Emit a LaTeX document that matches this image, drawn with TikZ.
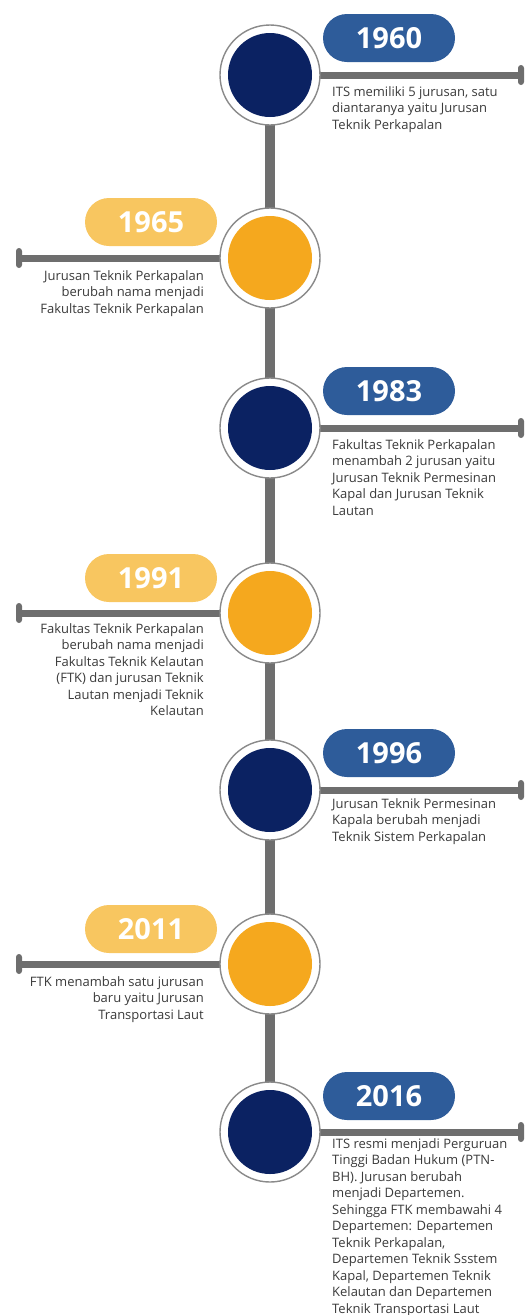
\documentclass[tikz,border=0pt]{standalone}
\usepackage{fontspec}
\setmainfont{Open Sans}
\newfontfamily\yearfont{Open Sans}
\usetikzlibrary{positioning,backgrounds}

\definecolor{navydot}{HTML}{0B2262}
\definecolor{orangedot}{HTML}{F5A81E}
\definecolor{bluepill}{HTML}{2E5C9A}
\definecolor{orangepill}{HTML}{F8C660}
\definecolor{linegray}{HTML}{6E6E6E}
\definecolor{ringgray}{HTML}{8A8A8A}
\definecolor{textgray}{HTML}{3A3A3A}

\begin{document}
\begin{tikzpicture}[x=1pt, y=-1pt,
	ring/.style={circle, draw=ringgray, line width=1.4pt, fill=white, minimum size=100pt, inner sep=0pt},
	navyball/.style={circle, fill=navydot, minimum size=84pt, inner sep=0pt},
	orangeball/.style={circle, fill=orangedot, minimum size=84pt, inner sep=0pt},
	yearpill/.style={rounded corners=24pt, minimum width=132pt, minimum height=48pt, inner sep=0pt,
		text=white, font=\yearfont\bfseries\fontsize{29}{30}\selectfont},
	bluetag/.style={yearpill, fill=bluepill},
	orangetag/.style={yearpill, fill=orangepill},
	spine/.style={draw=linegray, line width=10pt},
	branch/.style={draw=linegray, line width=7pt},
	endbar/.style={rectangle, rounded corners=3pt, fill=linegray, minimum width=6pt, minimum height=20pt, inner sep=0pt},
	righttext/.style={anchor=north west, inner sep=0pt, align=left, text=textgray, font=\fontsize{13}{16.5}\selectfont},
	lefttext/.style={anchor=north east, inner sep=0pt, align=right, text=textgray, font=\fontsize{13}{16.5}\selectfont}]
	\useasboundingbox (0,0) rectangle (526,1315);

	% circles on the spine
	\node[ring] (r60) at (270,75) {};
	\node[navyball] (b60) at (r60) {};
	\node[ring] (r65) at (270,258) {};
	\node[orangeball] (b65) at (r65) {};
	\node[ring] (r83) at (270,428) {};
	\node[navyball] (b83) at (r83) {};
	\node[ring] (r91) at (270,613) {};
	\node[orangeball] (b91) at (r91) {};
	\node[ring] (r96) at (270,790) {};
	\node[navyball] (b96) at (r96) {};
	\node[ring] (r11) at (270,964) {};
	\node[orangeball] (b11) at (r11) {};
	\node[ring] (r16) at (270,1132) {};
	\node[navyball] (b16) at (r16) {};

	% ends of the branches
	\node[endbar] (e60) at (521,75) {};
	\node[endbar] (e65) at (19,258) {};
	\node[endbar] (e83) at (521,428) {};
	\node[endbar] (e91) at (19,613) {};
	\node[endbar] (e96) at (521,790) {};
	\node[endbar] (e11) at (19,964) {};
	\node[endbar] (e16) at (521,1132) {};

	\begin{scope}[on background layer]
		\path[spine] (r60.center) -- (r16.center);
		\path[branch] (r60.center) -- (e60.center);
		\path[branch] (r65.center) -- (e65.center);
		\path[branch] (r83.center) -- (e83.center);
		\path[branch] (r91.center) -- (e91.center);
		\path[branch] (r96.center) -- (e96.center);
		\path[branch] (r11.center) -- (e11.center);
		\path[branch] (r16.center) -- (e16.center);
	\end{scope}

	% year tags
	\node[bluetag] (y60) at (389,38) {1960};
	\node[orangetag] (y65) at (151,222) {1965};
	\node[bluetag] (y83) at (389,391) {1983};
	\node[orangetag] (y91) at (151,578) {1991};
	\node[bluetag] (y96) at (389,753) {1996};
	\node[orangetag] (y11) at (151,929) {2011};
	\node[bluetag] (y16) at (389,1096) {2016};

	% descriptions
	\node[righttext] (t60) at (332,86) {ITS memiliki 5 jurusan, satu\\diantaranya yaitu Jurusan\\Teknik Perkapalan};
	\node[lefttext] (t65) at (204,270) {Jurusan Teknik Perkapalan\\berubah nama menjadi\\Fakultas Teknik Perkapalan};
	\node[righttext] (t83) at (332,439) {Fakultas Teknik Perkapalan\\menambah 2 jurusan yaitu\\Jurusan Teknik Permesinan\\Kapal dan Jurusan Teknik\\Lautan};
	\node[lefttext] (t91) at (204,623) {Fakultas Teknik Perkapalan\\berubah nama menjadi\\Fakultas Teknik Kelautan\\(FTK) dan jurusan Teknik\\Lautan menjadi Teknik\\Kelautan};
	\node[righttext] (t96) at (332,798) {Jurusan Teknik Permesinan\\Kapala berubah menjadi\\Teknik Sistem Perkapalan};
	\node[lefttext] (t11) at (204,976) {FTK menambah satu jurusan\\baru yaitu Jurusan\\Transportasi Laut};
	\node[righttext] (t16) at (332,1138) {ITS resmi menjadi Perguruan\\Tinggi Badan Hukum (PTN-\\BH). Jurusan berubah\\menjadi Departemen.\\Sehingga FTK membawahi 4\\Departemen: Departemen\\Teknik Perkapalan,\\Departemen Teknik Ssstem\\Kapal, Departemen Teknik\\Kelautan dan Departemen\\Teknik Transportasi Laut};
\end{tikzpicture}
\end{document}
